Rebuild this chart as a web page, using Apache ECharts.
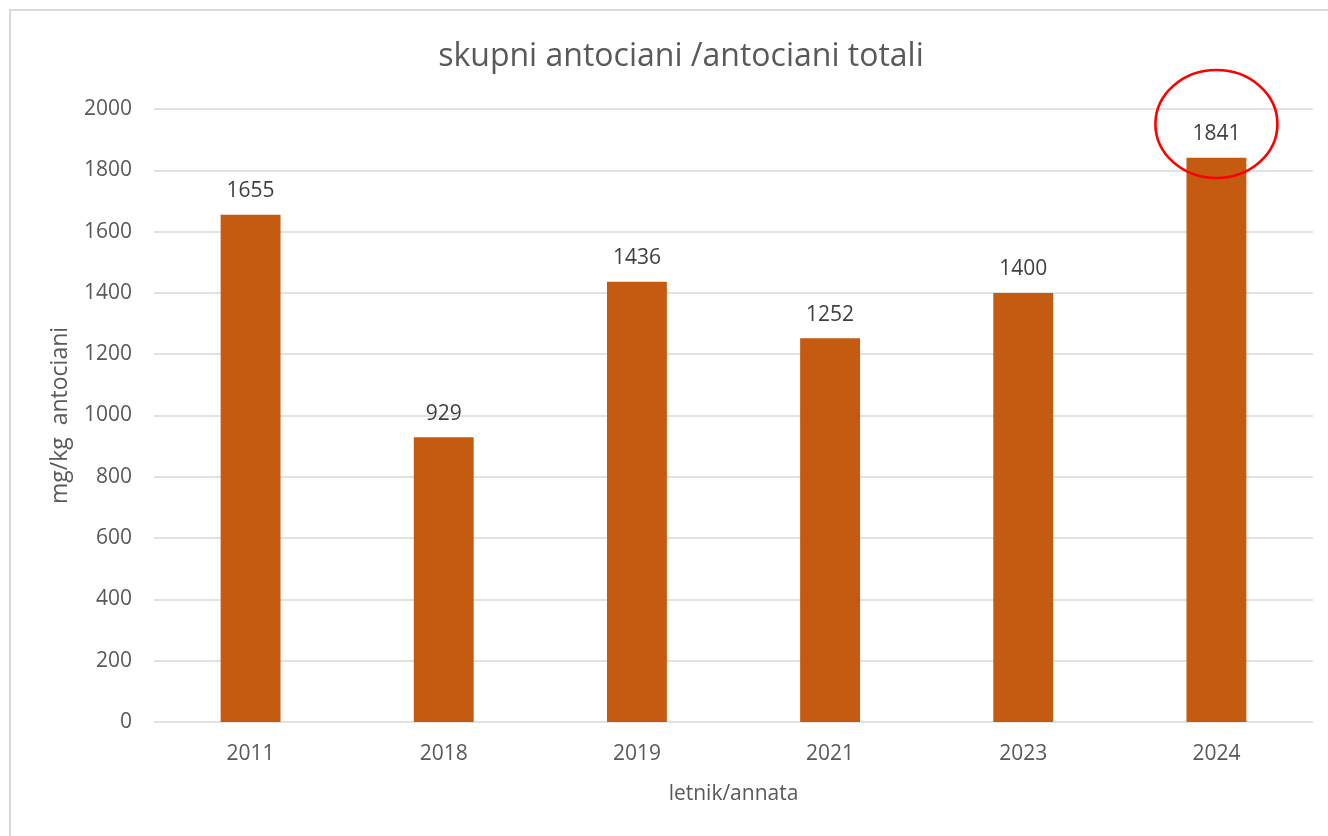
<!DOCTYPE html>
<html>
<head>
<meta charset="utf-8">
<script src="https://cdn.jsdelivr.net/npm/echarts@6/dist/echarts.min.js"></script>
<style>
  html, body { margin: 0; padding: 0; background: #fff; }
  #chart { width: 1328px; height: 836px; }
</style>
</head>
<body>
<div id="chart"></div>
<script>
// letniki in vrednosti
var years = ['2011', '2018', '2019', '2021', '2023', '2024'];
var antociani = [1655, 929, 1436, 1252, 1400, 1841];
var yTicks = [0, 200, 400, 600, 800, 1000, 1200, 1400, 1600, 1800, 2000];
// oznaka okoli najvišje vrednosti
var highlightYear = '2024';
var highlightAt = 1951;

var textColor = '#595959';
var font = '"Open Sans", sans-serif';

var chart = echarts.init(document.getElementById('chart'));

chart.setOption({
  backgroundColor: '#ffffff',
  animation: false,
  graphic: [{
    type: 'rect',
    shape: { x: 10, y: 10, width: 1340, height: 840 },
    style: { fill: 'none', stroke: '#d9d9d9', lineWidth: 2 },
    silent: true
  }],
  title: {
    text: 'skupni antociani /antociani totali',
    left: 676,
    top: 36,
    textAlign: 'center',
    textStyle: {
      color: textColor,
      fontFamily: font,
      fontSize: 32,
      fontWeight: 'normal'
    }
  },
  grid: {
    left: 154,
    right: 15,
    top: 109,
    bottom: 114
  },
  xAxis: {
    type: 'category',
    data: years,
    name: 'letnik/annata',
    nameLocation: 'middle',
    nameGap: 62,
    nameTextStyle: { color: textColor, fontFamily: font, fontSize: 21 },
    axisLine: { show: false },
    axisTick: { show: false },
    axisLabel: { color: textColor, fontFamily: font, fontSize: 21, margin: 22 }
  },
  yAxis: {
    type: 'value',
    min: yTicks[0],
    max: yTicks[yTicks.length - 1],
    interval: 200,
    name: 'mg/kg  antociani',
    nameLocation: 'middle',
    nameGap: 82,
    nameTextStyle: { color: textColor, fontFamily: font, fontSize: 23 },
    axisLine: { show: false },
    axisTick: { show: false },
    axisLabel: {
      color: textColor, fontFamily: font, fontSize: 21, margin: 22,
      formatter: function (v) { return String(v); }
    },
    splitLine: { lineStyle: { color: '#d9d9d9', width: 1.5 } }
  },
  series: [{
    name: 'antociani',
    type: 'bar',
    data: antociani,
    barWidth: '31%',
    itemStyle: { color: '#c55a11' },
    label: {
      show: true,
      position: 'top',
      distance: 13,
      color: '#404040',
      fontFamily: font,
      fontSize: 21
    },
    markPoint: {
      silent: true,
      symbol: 'circle',
      symbolSize: [122, 108],
      label: { show: false },
      itemStyle: { color: 'rgba(0,0,0,0)', borderColor: '#ff0000', borderWidth: 2.5 },
      data: [{ coord: [highlightYear, highlightAt] }]
    }
  }]
});
</script>
</body>
</html>
